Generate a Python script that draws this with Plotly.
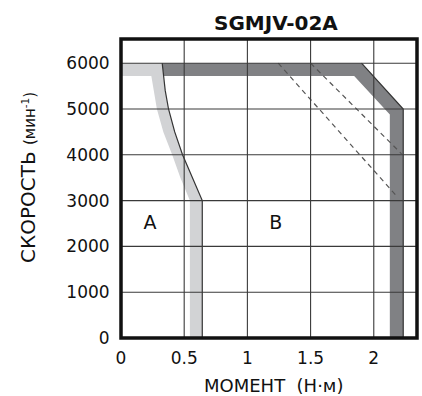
import plotly.graph_objects as go

# ---- data (torque N·m, speed min^-1) ----
a_outer_torque = [0.0, 0.326, 0.336, 0.350, 0.376, 0.425, 0.487, 0.562, 0.643, 0.643]
a_outer_speed = [6000, 6000, 5700, 5400, 5000, 4500, 4000, 3500, 3000, 0]
a_inner_torque = [0.545, 0.545, 0.47, 0.405, 0.335, 0.284, 0.258, 0.24, 0.0]
a_inner_speed = [0, 3000, 3500, 4000, 4500, 5000, 5400, 5720, 5720]

b_outer_torque = [0.326, 1.903, 2.233, 2.233]
b_outer_speed = [6000, 6000, 5000, 0]
b_inner_torque = [2.127, 2.127, 1.845, 0.338]
b_inner_speed = [0, 4880, 5720, 5720]

dash1_torque = [1.244, 2.19]
dash1_speed = [6000, 3070]
dash2_torque = [1.5, 2.22]
dash2_speed = [6000, 4020]

x_ticks = [0, 0.5, 1, 1.5, 2]
x_tick_text = ["0", "0.5", "1", "1.5", "2"]
y_ticks = [0, 1000, 2000, 3000, 4000, 5000, 6000]

region_labels = ["A", "B"]
region_x = [0.23, 1.225]
region_y = [2490, 2490]

title = "SGMJV-02A"
FONT = "DejaVu Sans"

fig = go.Figure()

# light band (A)
fig.add_trace(go.Scatter(
    x=a_outer_torque + a_inner_torque, y=a_outer_speed + a_inner_speed,
    fill="toself", fillcolor="#d2d3d5", line=dict(width=0), mode="lines",
    hoverinfo="skip", showlegend=False))
# dark band (B)
fig.add_trace(go.Scatter(
    x=b_outer_torque + b_inner_torque, y=b_outer_speed + b_inner_speed,
    fill="toself", fillcolor="#808184", line=dict(width=0), mode="lines",
    hoverinfo="skip", showlegend=False))
# outer edges
fig.add_trace(go.Scatter(
    x=a_outer_torque[1:], y=a_outer_speed[1:], mode="lines",
    line=dict(color="#333333", width=1.2), hoverinfo="skip", showlegend=False))
fig.add_trace(go.Scatter(
    x=b_outer_torque[1:], y=b_outer_speed[1:], mode="lines",
    line=dict(color="#333333", width=1.2), hoverinfo="skip", showlegend=False))
# dashed lines
for xs, ys in [(dash1_torque, dash1_speed), (dash2_torque, dash2_speed)]:
    fig.add_trace(go.Scatter(
        x=xs, y=ys, mode="lines",
        line=dict(color="#555555", width=1.2, dash="5px,4px"),
        hoverinfo="skip", showlegend=False))

# region labels
fig.add_trace(go.Scatter(
    x=region_x, y=region_y, mode="text", text=region_labels,
    textfont=dict(family=FONT, size=19, color="#111111"),
    hoverinfo="skip", showlegend=False))

# gridlines above traces
shapes = []
for xv in x_ticks:
    shapes.append(dict(type="line", xref="x", yref="paper", x0=xv, x1=xv, y0=0, y1=1,
                       line=dict(color="#3a3a3a", width=1.1), layer="above"))
for yv in y_ticks:
    shapes.append(dict(type="line", xref="paper", yref="y", x0=0, x1=1, y0=yv, y1=yv,
                       line=dict(color="#3a3a3a", width=1.1), layer="above"))
shapes.append(dict(type="rect", xref="paper", yref="paper", x0=0, x1=1, y0=0, y1=1,
                   line=dict(color="#111111", width=3.5), layer="above"))

annotations = [
    dict(text="<b>" + title + "</b>", xref="paper", yref="paper",
         x=(276 - 121) / 296, y=1, yshift=16, xanchor="center", yanchor="middle",
         showarrow=False, font=dict(family=FONT, size=20, color="#111111")),
    dict(text="МОМЕНТ  (Н·м)", xref="paper", yref="paper",
         x=(273 - 121) / 296, y=0, yshift=-47, xanchor="center", yanchor="middle",
         showarrow=False, font=dict(family=FONT, size=18, color="#111111")),
    dict(text="СКОРОСТЬ <span style='font-size:15px'>(мин<sup>-1</sup>)</span>",
         xref="paper", yref="paper", x=0, xshift=-93, y=(338 - 178) / 299,
         xanchor="center", yanchor="middle", textangle=-90,
         showarrow=False, font=dict(family=FONT, size=20, color="#111111")),
]

fig.update_layout(
    width=422, height=396,
    margin=dict(l=121, r=5, t=39, b=58),
    paper_bgcolor="white", plot_bgcolor="white",
    shapes=shapes, annotations=annotations,
    xaxis=dict(range=[0, 2.342], tickvals=x_ticks, ticktext=x_tick_text,
               showgrid=False, zeroline=False, showline=False,
               ticks="outside", ticklen=5, tickcolor="rgba(0,0,0,0)",
               tickfont=dict(family=FONT, size=17, color="#111111")),
    yaxis=dict(range=[0, 6528], tickvals=y_ticks,
               showgrid=False, zeroline=False, showline=False,
               ticks="outside", ticklen=7, tickcolor="rgba(0,0,0,0)",
               tickfont=dict(family=FONT, size=17, color="#111111")),
)

fig.write_html("out.html")
